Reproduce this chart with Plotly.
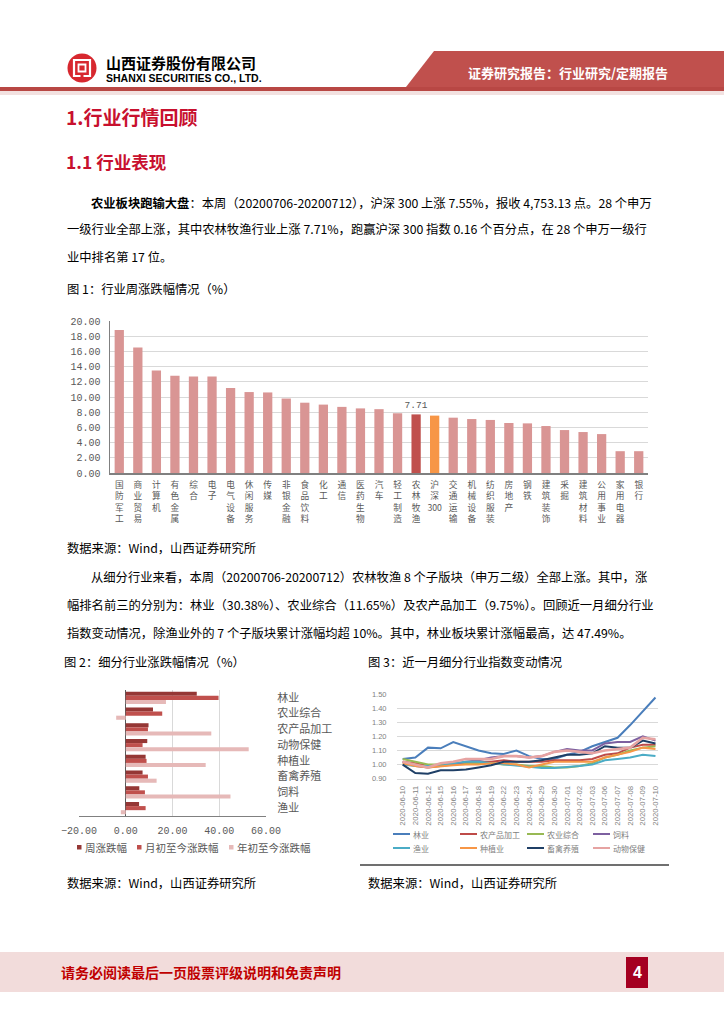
import plotly.graph_objects as go

W, H = 724, 1024
def X(p): return p / W
def Y(p): return 1 - p / H

CJK = "Noto Sans CJK SC"
MONO = "Liberation Mono"
SANS = "Liberation Sans"

# ---------------- data ----------------
industries = ['国防军工', '商业贸易', '计算机', '有色金属', '综合', '电子', '电气设备', '休闲服务',
              '传媒', '非银金融', '食品饮料', '化工', '通信', '医药生物', '汽车', '轻工制造',
              '农林牧渔', '沪深300', '交通运输', '机械设备', '纺织服装', '房地产', '钢铁',
              '建筑装饰', '采掘', '建筑材料', '公用事业', '家用电器', '银行']
weekly_pct = [18.8, 16.5, 13.5, 12.8, 12.7, 12.7, 11.2, 10.65, 10.6, 9.8, 9.25, 9.0, 8.7, 8.5,
              8.4, 7.86, 7.71, 7.55, 7.28, 7.1, 6.98, 6.58, 6.53, 6.18, 5.65, 5.39, 5.12, 2.87, 2.87]
y1_ticks = [0, 2, 4, 6, 8, 10, 12, 14, 16, 18, 20]

sub_industries = ['林业', '农业综合', '农产品加工', '动物保健', '种植业', '畜禽养殖', '饲料', '渔业']
week_chg = [30.38, 11.65, 9.75, 9.2, 8.5, 7.2, 5.8, 5.7]
month_chg = [39.7, 15.6, 9.5, 7.2, 8.9, 9.5, 8.2, 8.5]
ytd_chg = [17.2, -4.1, 36.6, 52.6, 34.2, 13.2, 44.8, -2.1]
bar_series_names = ['周涨跌幅', '月初至今涨跌幅', '年初至今涨跌幅']
x2_ticks = [-20, 0, 20, 40, 60]

dates = ['2020-06-10', '2020-06-11', '2020-06-12', '2020-06-15', '2020-06-16', '2020-06-17',
         '2020-06-18', '2020-06-19', '2020-06-22', '2020-06-23', '2020-06-24', '2020-06-29',
         '2020-06-30', '2020-07-01', '2020-07-02', '2020-07-03', '2020-07-06', '2020-07-07',
         '2020-07-08', '2020-07-09', '2020-07-10']
idx_linye = [1.04, 1.05, 1.12, 1.115, 1.16, 1.13, 1.10, 1.08, 1.075, 1.10, 1.06, 1.04, 1.04,
             1.07, 1.09, 1.13, 1.16, 1.19, 1.28, 1.38, 1.475]
idx_ncpjg = [1.02, 1.01, 0.99, 1.00, 1.00, 1.01, 1.02, 1.02, 1.03, 1.02, 1.02, 1.02, 1.03,
             1.03, 1.03, 1.04, 1.07, 1.08, 1.12, 1.14, 1.14]
idx_nyzh = [1.04, 1.02, 1.00, 1.00, 1.00, 1.01, 1.01, 1.01, 1.00, 1.00, 0.99, 0.99, 0.98,
            0.98, 0.99, 1.01, 1.05, 1.07, 1.10, 1.12, 1.13]
idx_sl = [1.02, 0.99, 0.98, 0.99, 1.00, 1.02, 1.03, 1.05, 1.06, 1.06, 1.05, 1.06, 1.09,
          1.11, 1.10, 1.10, 1.15, 1.16, 1.16, 1.20, 1.17]
idx_yy = [1.00, 0.99, 0.99, 0.99, 1.01, 1.02, 1.02, 1.01, 1.00, 0.99, 0.98, 0.975, 0.975,
          0.98, 0.99, 1.00, 1.03, 1.04, 1.05, 1.07, 1.06]
idx_zzy = [1.01, 0.99, 0.98, 0.99, 0.995, 1.00, 1.00, 1.01, 1.01, 1.00, 0.98, 1.00, 1.02,
           1.02, 1.02, 1.02, 1.05, 1.07, 1.09, 1.12, 1.11]
idx_xqyz = [1.00, 0.94, 0.935, 0.96, 0.96, 0.965, 0.98, 0.995, 1.02, 1.02, 1.02, 1.03, 1.05,
            1.07, 1.07, 1.08, 1.13, 1.12, 1.12, 1.17, 1.15]
idx_dwbj = [1.02, 1.00, 0.98, 1.01, 1.02, 1.04, 1.04, 1.04, 1.06, 1.06, 1.05, 1.06, 1.09,
            1.10, 1.09, 1.08, 1.10, 1.11, 1.12, 1.19, 1.18]
line_names = ['林业', '农产品加工', '农业综合', '饲料', '渔业', '种植业', '畜禽养殖', '动物保健']
line_values = [idx_linye, idx_ncpjg, idx_nyzh, idx_sl, idx_yy, idx_zzy, idx_xqyz, idx_dwbj]
y3_ticks = [0.9, 1.0, 1.1, 1.2, 1.3, 1.4, 1.5]

# ---------------- styles ----------------
BAR_PINK = '#D99594'
HL_RED = '#C0504D'
HL_ORANGE = '#F79646'
bar2_colors = ['#953735', '#C0504D', '#E6B9B8']
line_colors = ['#4A7EBB', '#BE4B48', '#98B954', '#7D60A0', '#4BACC6', '#F79646', '#1F3F66', '#E6A3A2']
line_widths = [2, 2, 2, 2, 2, 2, 2, 2.6]
GRID = '#D9D9D9'
TICK = '#595959'

fig = go.Figure()

# ---- Figure 1: industry weekly change ----
colors1 = [HL_RED if n == '农林牧渔' else HL_ORANGE if n == '沪深300' else BAR_PINK for n in industries]
text1 = [f'{v:.2f}' if n == '农林牧渔' else '' for n, v in zip(industries, weekly_pct)]
fig.add_trace(go.Bar(x=industries, y=weekly_pct, marker=dict(color=colors1, line=dict(width=0)),
                     width=0.5, text=text1, textposition='outside', cliponaxis=False,
                     constraintext='none',
                     textfont=dict(family=MONO, size=9.5, color=TICK),
                     xaxis='x', yaxis='y', showlegend=False))

def vert(name):
    if name == '沪深300':
        return '沪<br>深<br>300'
    return '<br>'.join(list(name))

# ---- Figure 2: sub-industry changes ----
offsets = [-0.39, -0.13, 0.13]
for name, vals, col, off in zip(bar_series_names, [week_chg, month_chg, ytd_chg], bar2_colors, offsets):
    fig.add_trace(go.Bar(y=sub_industries, x=vals, orientation='h', name=name,
                         marker=dict(color=col, line=dict(width=0)),
                         width=0.26, offset=off, xaxis='x2', yaxis='y2', showlegend=False))

# ---- Figure 3: index lines ----
for name, vals, col, lw in zip(line_names, line_values, line_colors, line_widths):
    fig.add_trace(go.Scatter(x=dates, y=vals, mode='lines', name=name,
                             line=dict(color=col, width=lw), xaxis='x3', yaxis='y3',
                             showlegend=False))

fig.update_layout(
    template='none',
    width=W, height=H, margin=dict(l=0, r=0, t=0, b=0, pad=0), autosize=False,
    paper_bgcolor='white', plot_bgcolor='rgba(0,0,0,0)',
    font=dict(family=CJK, color='black'),
    barmode='overlay', showlegend=False,
    xaxis=dict(domain=[X(110), X(648)], anchor='y', type='category', range=[-0.5, 28.5],
               tickmode='array', tickvals=industries, ticktext=[vert(n) for n in industries],
               tickangle=0, tickfont=dict(family=CJK, size=8.7, color=TICK), automargin=False,
               showline=True, linecolor='#808080', linewidth=1.5, showgrid=False, zeroline=False,
               ticks='outside', ticklen=3, tickcolor='rgba(0,0,0,0)'),
    yaxis=dict(domain=[Y(473), Y(321)], anchor='x', range=[0, 20], tickvals=y1_ticks,
               tickformat='.2f', tickfont=dict(family=MONO, size=10, color=TICK), automargin=False,
               showline=True, linecolor='#808080', linewidth=1.5, showgrid=True, gridcolor=GRID,
               gridwidth=1, zeroline=False, ticks='outside', ticklen=6, tickcolor='rgba(0,0,0,0)'),
    xaxis2=dict(domain=[X(79), X(266)], anchor='y2', range=[-20, 60], tickvals=x2_ticks,
                tickformat='.2f', tickfont=dict(family=MONO, size=10, color=TICK), automargin=False,
                showgrid=True, gridcolor=GRID, zeroline=True, zerolinecolor='#595959', zerolinewidth=1,
                showline=True, linecolor='#808080', linewidth=1.2,
                ticks='outside', ticklen=5, tickcolor='rgba(0,0,0,0)'),
    yaxis2=dict(domain=[Y(816), Y(690)], anchor='x2', type='category', range=[7.5, -0.5],
                side='right', tickfont=dict(family=CJK, size=11, color=TICK), showgrid=False,
                automargin=False, showline=False,
                zeroline=False, ticks='outside', ticklen=8, tickcolor='rgba(0,0,0,0)'),
    xaxis3=dict(domain=[X(397), X(658)], anchor='y3', type='category', range=[-0.45, 20.2],
                tickangle=-90, tickfont=dict(family=SANS, size=7.8, color='#7F7F7F'),
                automargin=False, zeroline=False,
                showgrid=False, showline=True, linecolor=GRID, linewidth=1,
                ticks='outside', ticklen=3, tickcolor='rgba(0,0,0,0)'),
    yaxis3=dict(domain=[Y(778.7), Y(694)], anchor='x3', range=[0.9, 1.5], tickvals=y3_ticks,
                tickformat='.2f', tickfont=dict(family=SANS, size=7.5, color='#7F7F7F'),
                automargin=False, showline=False,
                showgrid=True, gridcolor=GRID, zeroline=False,
                ticks='outside', ticklen=8, tickcolor='rgba(0,0,0,0)'),
)

shapes = []
ann = []

def text(x, y, s, size=12.5, color='black', anchor='left', family=CJK, bold=False):
    if bold:
        s = f'<b>{s}</b>'
    ann.append(dict(x=X(x), y=Y(y), xref='paper', yref='paper', text=s, showarrow=False,
                    xanchor=anchor, yanchor='middle',
                    font=dict(family=family, size=size, color=color)))

def rect(x0, y0, x1, y1, fill, line=None, lw=0):
    shapes.append(dict(type='rect', xref='paper', yref='paper', x0=X(x0), x1=X(x1),
                       y0=Y(y1), y1=Y(y0), fillcolor=fill,
                       line=dict(color=line or fill, width=lw), layer='above'))

# ---- header ----
shapes.append(dict(type='path', xref='paper', yref='paper',
                   path=f'M {X(406)},{Y(87)} L {X(434)},{Y(51)} L {X(724)},{Y(51)} L {X(724)},{Y(87)} Z',
                   fillcolor='#C0504D', line=dict(width=0)))
rect(0, 87, 724, 91, '#B84744')
rect(0, 91, 724, 95, '#F2E1E0')
# logo
shapes.append(dict(type='circle', xref='paper', yref='paper', x0=X(67.5), x1=X(96.5),
                   y0=Y(82.5), y1=Y(53.5), fillcolor='#D7282F', line=dict(width=0)))
shapes.append(dict(type='rect', xref='paper', yref='paper', x0=X(74), x1=X(90),
                   y0=Y(76), y1=Y(60), fillcolor='rgba(0,0,0,0)', line=dict(color='white', width=2.2)))
shapes.append(dict(type='rect', xref='paper', yref='paper', x0=X(78.5), x1=X(85.5),
                   y0=Y(71.5), y1=Y(64.5), fillcolor='rgba(0,0,0,0)', line=dict(color='white', width=1.8)))
rect(80.5, 74.5, 83.5, 78, '#D7282F')
text(104, 62, '山西证券股份有限公司', size=15, bold=True)
text(104, 78, 'SHANXI SECURITIES CO., LTD.', size=10.5, family=SANS, bold=True)
text(568, 72, '证券研究报告：行业研究/定期报告', size=13, color='white', anchor='center', bold=True)

# ---- headings ----
RED_H = '#C8102E'
text(64, 116, '1.行业行情回顾', size=19, color=RED_H, bold=True)
text(64, 161, '1.1 行业表现', size=17.5, color=RED_H, bold=True)

text(89, 203, '<b>农业板块跑输大盘</b>：本周（20200706-20200712），沪深 300 上涨 7.55%，报收 4,753.13 点。28 个申万',
     size=12.3)
text(65, 229, '一级行业全部上涨，其中农林牧渔行业上涨 7.71%，跑赢沪深 300 指数 0.16 个百分点，在 28 个申万一级行',
     size=12.3)
text(65, 257, '业中排名第 17 位。', size=12.3)
text(65, 289, '图 1：行业周涨跌幅情况（%）', size=12.3)

text(65, 548, '数据来源：Wind，山西证券研究所', size=12.3)
text(89, 577, '从细分行业来看，本周（20200706-20200712）农林牧渔 8 个子版块（申万二级）全部上涨。其中，涨',
     size=12.3)
text(65, 605, '幅排名前三的分别为：林业（30.38%）、农业综合（11.65%）及农产品加工（9.75%）。回顾近一月细分行业',
     size=12.3)
text(65, 633, '指数变动情况，除渔业外的 7 个子版块累计涨幅均超 10%。其中，林业板块累计涨幅最高，达 47.49%。',
     size=12.3)
text(62, 662, '图 2：细分行业涨跌幅情况（%）', size=12.3)
text(366, 662, '图 3：近一月细分行业指数变动情况', size=12.3)
text(65, 883, '数据来源：Wind，山西证券研究所', size=12.3)
text(366, 883, '数据来源：Wind，山西证券研究所', size=12.3)

# ---- fig 2 legend ----
leg2_x = [77, 137, 229]
for name, col, lx in zip(bar_series_names, bar2_colors, leg2_x):
    rect(lx, 845, lx + 4.5, 849.5, col)
    text(lx + 6, 847.5, name, size=10.5, color=TICK)

# ---- fig 3 legend ----
leg3_x = [393, 460, 527, 593]
leg3_y = [834, 848]
for i, (name, col) in enumerate(zip(line_names, line_colors)):
    lx = leg3_x[i % 4]
    ly = leg3_y[i // 4]
    shapes.append(dict(type='line', xref='paper', yref='paper', x0=X(lx), x1=X(lx + 17),
                       y0=Y(ly), y1=Y(ly), line=dict(color=col, width=2)))
    text(lx + 18, ly, name, size=8, color='#7F7F7F')
# fig 3 frame bottom line
shapes.append(dict(type='line', xref='paper', yref='paper', x0=X(360), x1=X(669),
                   y0=Y(865), y1=Y(865), line=dict(color='#404040', width=1.5)))

# ---- footer ----
rect(0, 952, 724, 992, '#F2DCDB')
text(59, 972, '请务必阅读最后一页股票评级说明和免责声明', size=14, color='#C00000', bold=True)
rect(626, 957, 648, 988, '#A50021')
text(637, 972.5, '4', size=16, color='white', anchor='center', family=SANS, bold=True)

fig.update_layout(shapes=shapes, annotations=ann)
fig.write_html('out.html', config={'displayModeBar': False, 'staticPlot': True},
               post_script="document.body.style.margin='0';document.body.style.overflow='hidden';")
